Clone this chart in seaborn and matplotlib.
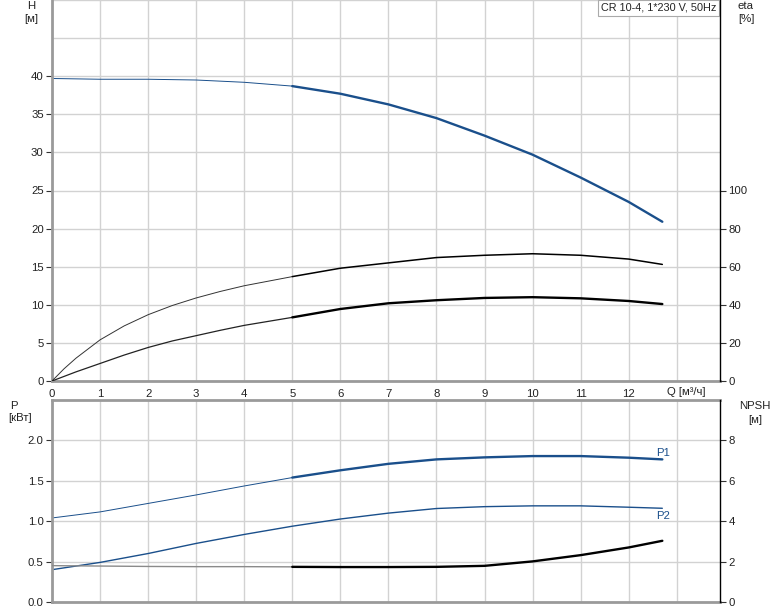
import numpy as np
import pandas as pd
import matplotlib
matplotlib.use("Agg")
import matplotlib.pyplot as plt
import seaborn as sns

sns.set_theme(style="white")
plt.rcParams['font.family'] = ['Liberation Sans', 'DejaVu Sans']

# ---- data ----
q = [0, 1, 2, 3, 4, 5, 6, 7, 8, 9, 10, 11, 12, 12.7]
head = [39.7, 39.6, 39.6, 39.5, 39.2, 38.7, 37.7, 36.3, 34.5, 32.2, 29.7, 26.7, 23.5, 20.9]

q_eta = [0, 0.25, 0.5, 1, 1.5, 2, 2.5, 3, 3.5, 4, 5, 6, 7, 8, 9, 10, 11, 12, 12.7]
eta_upper = [0, 6.4, 12.0, 21.6, 28.9, 34.8, 39.6, 43.6, 47.0, 50.0, 54.8, 59.2, 62.0,
             64.8, 66.0, 66.8, 66.0, 64.0, 61.2]
eta_lower = [0, 2.4, 4.8, 9.2, 13.6, 17.6, 21.0, 23.8, 26.6, 29.2, 33.4, 37.8, 40.8,
             42.4, 43.6, 44.0, 43.4, 42.0, 40.4]

p1 = [1.04, 1.115, 1.22, 1.325, 1.436, 1.54, 1.63, 1.71, 1.765, 1.79, 1.806, 1.806, 1.786, 1.765]
p2 = [0.40, 0.49, 0.60, 0.725, 0.836, 0.938, 1.027, 1.10, 1.157, 1.18, 1.19, 1.19, 1.173, 1.16]
npsh = [1.80, 1.78, 1.76, 1.75, 1.75, 1.74, 1.73, 1.73, 1.74, 1.79, 2.01, 2.32, 2.70, 3.03]

title_text = "CR 10-4, 1*230 V, 50Hz"
x_ticks = [0, 1, 2, 3, 4, 5, 6, 7, 8, 9, 10, 11, 12]
h_ticks = [0, 5, 10, 15, 20, 25, 30, 35, 40]
eta_ticks = [0, 20, 40, 60, 80, 100]
p_ticks = [0.0, 0.5, 1.0, 1.5, 2.0]
npsh_ticks = [0, 2, 4, 6, 8]

BLUE = "#1a4f8b"
GRID = "#d2d2d2"
SPINE_G = "#9a9a9a"
TXT = "#222222"
FS = 8.2

W, H = 774, 611
fig = plt.figure(figsize=(W / 100, H / 100), dpi=100)
fig.patch.set_facecolor("white")

L, R = 52, 720
ax1 = fig.add_axes([L / W, 1 - 381 / H, (R - L) / W, 381 / H])
ax2 = fig.add_axes([L / W, (H - 602) / H, (R - L) / W, 202 / H])

df_h = pd.DataFrame({"Q": q, "H": head})
df_eta = pd.DataFrame({"Q": q_eta, "up": eta_upper, "low": eta_lower})
df_p = pd.DataFrame({"Q": q, "P1": p1, "P2": p2, "NPSH": npsh})

TH = 0.7
TK = 1.7

def seg(df, lo, hi):
    return df[(df["Q"] >= lo) & (df["Q"] <= hi)]

for ax in (ax1, ax2):
    ax.set_facecolor("white")
    ax.set_xlim(0, 13.9)
    ax.set_xticks(range(0, 14))
    ax.grid(True, color=GRID, linewidth=1.0)
    ax.set_axisbelow(True)
    for s in ("left", "bottom", "top"):
        ax.spines[s].set_color(SPINE_G)
        ax.spines[s].set_linewidth(2.0)
    ax.spines["right"].set_visible(False)
    ax.tick_params(axis="both", which="both", direction="out", length=4, width=0.8,
                   color="#333333", labelsize=FS, labelcolor=TXT, pad=2)
ax1.spines["top"].set_visible(False)

# ---- top axes ----
ax1.set_ylim(0, 50)
ax1.set_yticks(h_ticks)
ax1.set_yticklabels([str(v) for v in h_ticks])
ax1.set_xticklabels([str(v) for v in x_ticks] + [""])
for yv in (45, 50):
    ax1.axhline(yv, color=GRID, linewidth=1.0, zorder=0.5)

sns.lineplot(data=seg(df_h, 0, 5), x="Q", y="H", ax=ax1, color=BLUE, linewidth=TH)
sns.lineplot(data=seg(df_h, 5, 13), x="Q", y="H", ax=ax1, color=BLUE, linewidth=TK)
ax1.set_xlabel("")
ax1.set_ylabel("")

ax1r = ax1.twinx()
ax1r.set_ylim(0, 200)
ax1r.set_yticks(eta_ticks)
ax1r.set_yticklabels([str(v) for v in eta_ticks])
for s in ("left", "bottom", "top"):
    ax1r.spines[s].set_visible(False)
ax1r.spines["right"].set_color("black")
ax1r.spines["right"].set_linewidth(1.0)
ax1r.tick_params(axis="y", direction="out", length=4, width=0.8, color="#333333",
                 labelsize=FS, labelcolor=TXT, pad=2)
ax1r.grid(False)
sns.lineplot(data=seg(df_eta, 0, 5), x="Q", y="up", ax=ax1r, color="#333333", linewidth=TH)
sns.lineplot(data=seg(df_eta, 5, 13), x="Q", y="up", ax=ax1r, color="black", linewidth=1.1)
sns.lineplot(data=seg(df_eta, 0, 5), x="Q", y="low", ax=ax1r, color="#222222", linewidth=0.9)
sns.lineplot(data=seg(df_eta, 5, 13), x="Q", y="low", ax=ax1r, color="black", linewidth=TK)
ax1r.set_xlabel("")
ax1r.set_ylabel("")
ax1r.set_xlim(0, 13.9)

fig.text(686 / W, 1 - 392 / H, "Q [м³/ч]", ha="center", va="center", fontsize=FS,
         color=TXT)
ax1.text((716 - L) / (R - L), 1 - 8 / 381, title_text, transform=ax1.transAxes,
         ha="right", va="center", fontsize=7.8, color=TXT, zorder=10,
         bbox=dict(boxstyle="square,pad=0.25", facecolor="white", edgecolor="#aaaaaa",
                   linewidth=0.8))

# ---- bottom axes ----
ax2.set_ylim(0, 2.5)
ax2.set_yticks(p_ticks)
ax2.set_yticklabels([f"{v:.1f}" for v in p_ticks])
ax2.set_xticklabels([])
ax2.tick_params(axis="x", length=0)

sns.lineplot(data=seg(df_p, 0, 5), x="Q", y="P1", ax=ax2, color=BLUE, linewidth=TH)
sns.lineplot(data=seg(df_p, 5, 13), x="Q", y="P1", ax=ax2, color=BLUE, linewidth=TK)
sns.lineplot(data=df_p, x="Q", y="P2", ax=ax2, color=BLUE, linewidth=1.0)
ax2.set_xlabel("")
ax2.set_ylabel("")
ax2.text(12.72, 1.84, "P1", ha="center", va="center", fontsize=FS, color=BLUE)
ax2.text(12.72, 1.06, "P2", ha="center", va="center", fontsize=FS, color=BLUE)

ax2r = ax2.twinx()
ax2r.set_ylim(0, 10)
ax2r.set_yticks(npsh_ticks)
ax2r.set_yticklabels([str(v) for v in npsh_ticks])
for s in ("left", "bottom", "top"):
    ax2r.spines[s].set_visible(False)
ax2r.spines["right"].set_color("black")
ax2r.spines["right"].set_linewidth(1.0)
ax2r.tick_params(axis="y", direction="out", length=4, width=0.8, color="#333333",
                 labelsize=FS, labelcolor=TXT, pad=2)
ax2r.grid(False)
sns.lineplot(data=seg(df_p, 0, 5), x="Q", y="NPSH", ax=ax2r, color="#8a8a8a", linewidth=1.0)
sns.lineplot(data=seg(df_p, 5, 13), x="Q", y="NPSH", ax=ax2r, color="black", linewidth=TK)
ax2r.set_xlabel("")
ax2r.set_ylabel("")
ax2r.set_xlim(0, 13.9)

# ---- axis captions ----
def cap(x, y, s):
    fig.text(x / W, 1 - y / H, s, ha="center", va="center", fontsize=FS, color=TXT)

cap(31, 6, "H")
cap(31, 19, "[м]")
cap(746, 6, "eta")
cap(746, 19, "[%]")
cap(14, 406, "P")
cap(20, 418, "[кВт]")
cap(755, 406, "NPSH")
cap(755, 420, "[м]")

fig.savefig("out.png", dpi=100, facecolor="white")
